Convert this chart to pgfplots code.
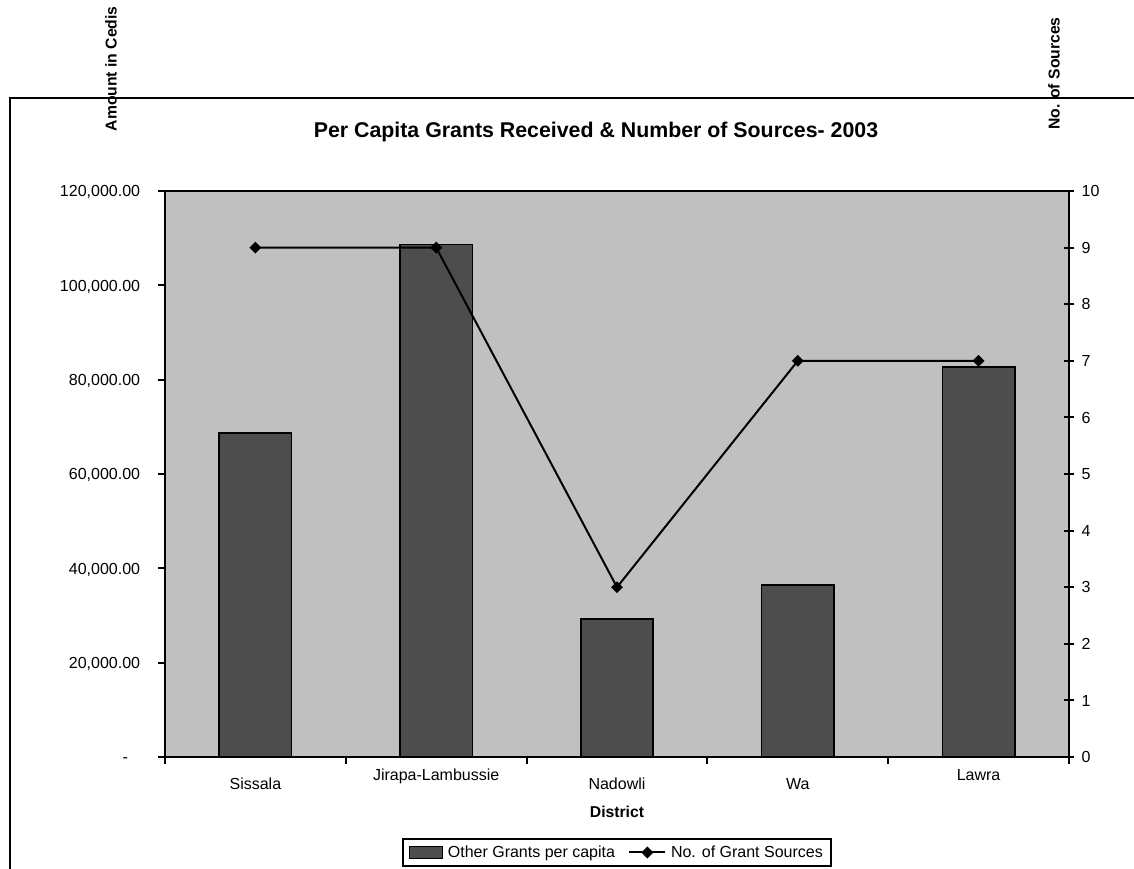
\documentclass[border=0pt]{standalone}
\usepackage{pgfplots}
\pgfplotsset{compat=1.18}
\usepackage{fontspec}
\setmainfont{Liberation Sans}
\definecolor{bgc}{HTML}{C0C0C0}
\definecolor{barc}{HTML}{4D4D4D}
\newcommand{\tfont}{\fontsize{12}{14.4}\selectfont}
\pgfplotsset{mylineleg/.style={legend image code/.code={\draw[mark repeat=2,mark phase=2,##1] plot coordinates {(0pt,0pt)(13.5pt,0pt)(27pt,0pt)};}}}
\begin{document}
\begin{tikzpicture}
\useasboundingbox (0pt,0pt) rectangle (850.5pt,-651pt);
\draw[line width=1.6pt] (7.5pt,-700pt) -- (7.5pt,-73.5pt) -- (900pt,-73.5pt);
\begin{axis}[
  at={(123.75pt,-567.75pt)}, anchor=south west,
  width=678pt, height=424.5pt, scale only axis,
  xmin=-0.5, xmax=4.5, ymin=0, ymax=120000,
  scaled y ticks=false,
  axis background/.style={fill=bgc},
  axis line style={line width=1.5pt},
  every tick/.style={black, line width=1.5pt},
  tick align=outside, tick pos=left, major tick length=5pt,
  ybar, bar width=0.4,
  xtick={-0.5,0.5,...,4.5},
  x tick label as interval,
  xticklabels={Sissala, \raisebox{6.75pt}[0pt][0pt]{Jirapa-Lambussie}, Nadowli, Wa, \raisebox{6.75pt}[0pt][0pt]{Lawra}},
  xticklabel style={anchor=north, inner sep=0pt, text height=8.6pt, text depth=0pt, yshift=-10.2pt, font=\tfont},
  ytick={0,20000,40000,60000,80000,100000,120000},
  yticklabels={{\mbox{-\kern9pt}},{20,000.00},{40,000.00},{60,000.00},{80,000.00},{100,000.00},{120,000.00}},
  yticklabel style={anchor=east, inner sep=0pt, text height=8.6pt, text depth=0pt, xshift=-13.5pt, font=\tfont},
  title={Per Capita Grants Received \& Number of Sources- 2003},
  title style={at={(axis description cs:0.4768,1.0901)}, anchor=center, yshift=0pt, font=\bfseries\fontsize{16}{19}\selectfont},
  xlabel={District},
  xlabel style={at={(axis description cs:0.5,-0.0972)}, anchor=center, font=\bfseries\fontsize{11.8}{14}\selectfont},
  ylabel={Amount in Cedis},
  ylabel style={at={(axis description cs:-0.0597,1.0971)}, anchor=west, rotate=0, font=\bfseries\fontsize{11.8}{14}\selectfont},
]
\addplot[fill=barc, draw=black, line width=1.2pt] coordinates {(0,68700) (1,108700) (2,29300) (3,36500) (4,82700)};
\end{axis}
\begin{axis}[
  at={(123.75pt,-567.75pt)}, anchor=south west,
  width=678pt, height=424.5pt, scale only axis,
  xmin=-0.5, xmax=4.5, ymin=0, ymax=10,
  axis x line=none, axis y line*=right,
  axis line style={line width=1.5pt},
  every tick/.style={black, line width=1.5pt},
  tick align=center, major tick length=8pt,
  ytick={0,1,...,10},
  /pgf/number format/assume math mode=true,
  yticklabel style={anchor=west, inner sep=0pt, text height=8.6pt, text depth=0pt, xshift=5.25pt, font=\tfont},
  ylabel={No. of Sources},
  ylabel style={at={(axis description cs:0.9834,1.0998)}, anchor=west, rotate=0, font=\bfseries\fontsize{11.8}{14}\selectfont},
  legend columns=2,
  legend style={at={(axis description cs:0.5,-0.1431)}, anchor=north, draw=black, line width=1.5pt, font=\tfont,
    inner xsep=4.5pt, inner ysep=3pt,
    /tikz/every odd column/.append style={column sep=1.5pt},
    /tikz/every even column/.append style={column sep=8pt}},
  legend cell align=left,
]
\addlegendimage{legend image code/.code={\draw[fill=barc, draw=black, line width=1pt] (0pt,-4.5pt) rectangle (25pt,4.5pt);}}
\addlegendentry{Other Grants per capita}
\addplot[black, line width=1.5pt, mark=square*, mark size=2.4pt, mark options={rotate=45, solid, fill=black}, mylineleg]
  coordinates {(0,9) (1,9) (2,3) (3,7) (4,7)};
\addlegendentry{No. of Grant Sources}
\end{axis}
\end{tikzpicture}
\end{document}
